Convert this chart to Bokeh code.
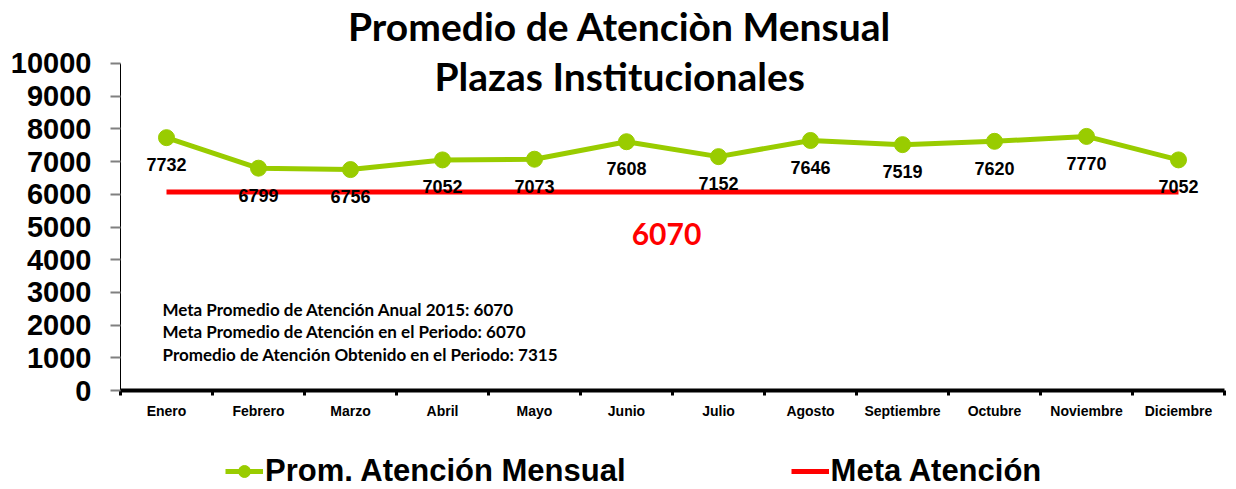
from bokeh.plotting import figure
from bokeh.models import ColumnDataSource, FixedTicker, Range1d, Label, Legend, LegendItem
from bokeh.core.properties import value
from bokeh.embed import file_html
from bokeh.resources import INLINE

months = ["Enero", "Febrero", "Marzo", "Abril", "Mayo", "Junio", "Julio",
          "Agosto", "Septiembre", "Octubre", "Noviembre", "Diciembre"]
atencion = [7732, 6799, 6756, 7052, 7073, 7608, 7152, 7646, 7519, 7620, 7770, 7052]
meta_value = 6070
y_ticks = [0, 1000, 2000, 3000, 4000, 5000, 6000, 7000, 8000, 9000, 10000]
title_lines = ["Promedio  de Atenciòn Mensual", "Plazas  Institucionales"]
notes = ["Meta Promedio de Atención Anual 2015: 6070",
         "Meta Promedio de Atención en el Periodo: 6070",
         "Promedio de Atención Obtenido en el Periodo: 7315"]
series_names = ["Prom. Atención Mensual", "Meta Atención"]

GREEN = "#99CC00"
RED = "#FF0000"

x = [i + 0.5 for i in range(len(months))]
src = ColumnDataSource(dict(x=x, y=atencion, lbl=[str(v) for v in atencion],
                            meta=[meta_value] * len(months)))

W, H = 1236, 489
p = figure(width=W, height=H,
           x_range=Range1d(-1.3043, 12.1304), y_range=Range1d(-3027.5, 11926.6),
           output_backend="svg", toolbar_location=None, min_border=0,
           min_border_left=0, min_border_right=0, min_border_top=0, min_border_bottom=0)
p.outline_line_color = None
p.xgrid.visible = False
p.ygrid.visible = False
p.background_fill_color = "white"
p.border_fill_color = "white"

# Y axis
ya = p.yaxis[0]
ya.fixed_location = 0
ya.bounds = (0, 10000)
ya.ticker = FixedTicker(ticks=y_ticks)
ya.axis_line_color = "black"
ya.axis_line_width = 1
ya.major_tick_in = 0
ya.major_tick_out = 10
ya.major_tick_line_color = "#808080"
ya.major_tick_line_width = 2
ya.minor_tick_line_color = None
ya.major_label_standoff = 19
ya.major_label_text_font = "Liberation Sans"
ya.major_label_text_font_style = "bold"
ya.major_label_text_font_size = "29px"
ya.major_label_text_color = "black"

# X axis
xa = p.xaxis[0]
xa.fixed_location = 0
xa.bounds = (0, 12)
xa.ticker = FixedTicker(ticks=x, minor_ticks=list(range(len(months) + 1)))
xa.major_label_overrides = {xi: m for xi, m in zip(x, months)}
xa.major_tick_line_color = None
xa.minor_tick_in = 0
xa.minor_tick_out = 5
xa.minor_tick_line_color = "black"
xa.minor_tick_line_width = 3
xa.axis_line_color = "black"
xa.axis_line_width = 4
xa.major_label_standoff = 6
xa.major_label_text_font = "Liberation Sans"
xa.major_label_text_font_style = "bold"
xa.major_label_text_font_size = "14px"
xa.major_label_text_color = "black"

# Series
red_r = p.line("x", "meta", source=src, line_color=RED, line_width=5)
green_l = p.line("x", "y", source=src, line_color=GREEN, line_width=5)
green_c = p.scatter("x", "y", source=src, size=16, fill_color=GREEN, line_color=GREEN)
p.text("x", "y", text="lbl", source=src, y_offset=27, text_align="center",
       text_baseline="middle", text_font=value("Liberation Sans"), text_font_style="bold",
       text_font_size="18px", text_color="black")

# Annotations
p.add_layout(Label(x=5.478, y=11162, text=title_lines[0], text_align="center",
                   text_baseline="middle", text_font="Lato", text_font_style="bold",
                   text_font_size="39px", text_color="black"))
p.add_layout(Label(x=5.478, y=9633, text=title_lines[1], text_align="center",
                   text_baseline="middle", text_font="Lato", text_font_style="bold",
                   text_font_size="39px", text_color="black"))
p.add_layout(Label(x=5.935, y=4801, text=str(meta_value), text_align="center",
                   text_baseline="middle", text_font="Lato", text_font_style="bold",
                   text_font_size="30px", text_color=RED))
for t, yv in zip(notes, [2477, 1804, 1101]):
    p.add_layout(Label(x=0.4565, y=yv, text=t, text_align="left", text_baseline="middle",
                       text_font="Lato", text_font_style="bold", text_font_size="17px",
                       text_color="black"))

legend = Legend(items=[LegendItem(label=series_names[0], renderers=[green_l, green_c]),
                       LegendItem(label=series_names[1], renderers=[red_r])],
                orientation="horizontal", location=(225, 0), spacing=165,
                glyph_width=38, glyph_height=30, label_standoff=2,
                label_text_font="Liberation Sans", label_text_font_style="bold",
                label_text_font_size="31px", label_text_color="black",
                border_line_color=None, background_fill_alpha=0, padding=0, margin=0)
p.add_layout(legend, "center")

open("out.html", "w").write(file_html(p, INLINE))
